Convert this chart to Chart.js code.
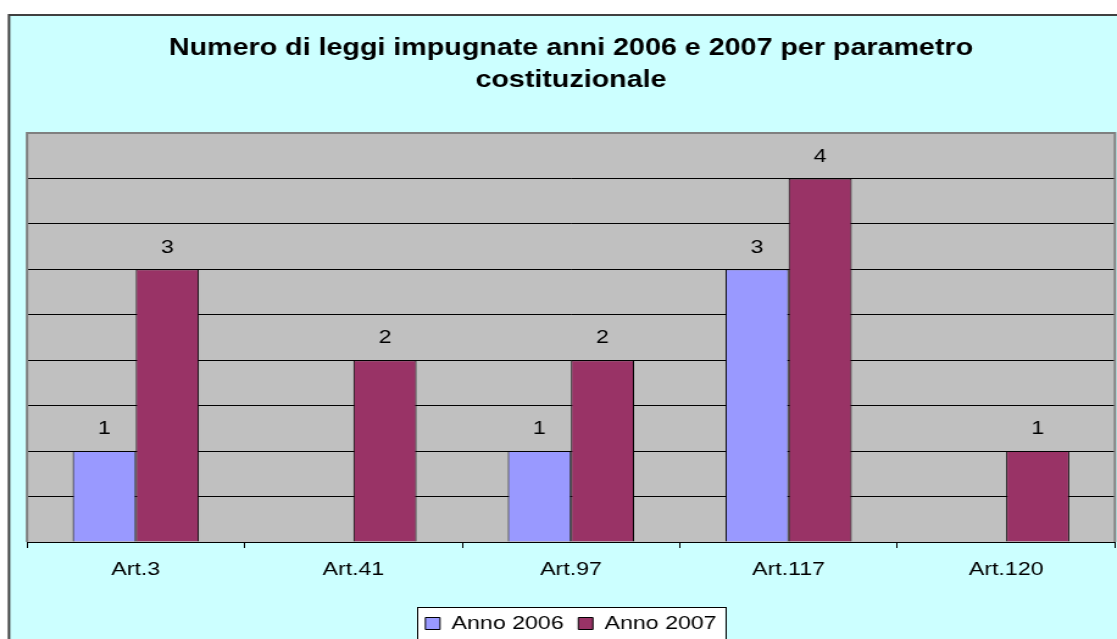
<!DOCTYPE html>
<html><head><meta charset="utf-8">
<script src="https://cdn.jsdelivr.net/npm/chart.js@4"></script>
<style>
html,body{margin:0;padding:0;background:#fff;overflow:hidden;width:1117px;height:639px;}
#wrap{position:absolute;left:0;top:0;width:916px;height:643px;transform:scaleX(1.2194);transform-origin:0 0;}
</style></head><body>
<div id="wrap"><canvas id="c" width="916" height="643"></canvas></div>
<script>
const titleLines = ['Numero di leggi impugnate anni 2006 e 2007 per parametro', 'costituzionale'];
const categories = ['Art.3', 'Art.41', 'Art.97', 'Art.117', 'Art.120'];
const seriesNames = ['Anno 2006', 'Anno 2007'];
const values2006 = [1, null, 1, 3, null];
const values2007 = [3, 2, 2, 4, 1];
const yMin = 0, yMax = 4.5, yStep = 0.5;

const S = 1117 / 916;
const FONT = "'Liberation Sans', Arial, sans-serif";
Chart.defaults.font.family = FONT;
Chart.defaults.color = '#000';

const bgPlugin = {
  id: 'bg',
  beforeDraw(chart) {
    const {ctx, width, height, chartArea: a} = chart;
    ctx.save();
    ctx.fillStyle = '#fff';
    ctx.fillRect(0, 0, width, height);
    const bx = 9 / S;
    ctx.fillStyle = '#CCFFFF';
    ctx.fillRect(bx, 15, width - bx, height - 15);
    ctx.strokeStyle = '#404040';
    ctx.lineWidth = 2;
    ctx.beginPath();
    ctx.moveTo(bx, height + 5); ctx.lineTo(bx, 15); ctx.lineTo(width + 5, 15);
    ctx.stroke();
    ctx.fillStyle = '#C0C0C0';
    ctx.fillRect(a.left, a.top, a.right - a.left, a.bottom - a.top);
    const lg = chart.legend;
    if (lg && lg.legendHitBoxes && lg.legendHitBoxes.length) {
      const hb = lg.legendHitBoxes;
      const first = hb[0], last = hb[hb.length - 1];
      const cy = first.top + first.height / 2;
      const l = first.left - 7, r = last.left + last.width + 7;
      const t = cy - 16.5;
      ctx.fillStyle = '#fff';
      ctx.fillRect(l, t, r - l, 40);
      ctx.strokeStyle = '#000';
      ctx.lineWidth = 1;
      ctx.strokeRect(Math.round(l) + 0.5, Math.round(t) + 0.5, Math.round(r - l), 40);
    }
    ctx.restore();
  },
  beforeDatasetsDraw(chart) {
    const {ctx, chartArea: a} = chart;
    ctx.save();
    ctx.strokeStyle = '#808080';
    ctx.lineWidth = 2;
    ctx.beginPath();
    ctx.moveTo(a.left, a.bottom); ctx.lineTo(a.left, a.top); ctx.lineTo(a.right, a.top); ctx.lineTo(a.right, a.bottom);
    ctx.stroke();
    ctx.restore();
  }
};

const labelPlugin = {
  id: 'vlabels',
  afterDatasetsDraw(chart) {
    const {ctx} = chart;
    ctx.save();
    ctx.font = '19px ' + FONT;
    ctx.fillStyle = '#000';
    ctx.textAlign = 'center';
    ctx.textBaseline = 'middle';
    chart.data.datasets.forEach((ds, i) => {
      const meta = chart.getDatasetMeta(i);
      meta.data.forEach((bar, j) => {
        const v = ds.data[j];
        if (v === null || v === undefined) return;
        ctx.fillText(String(v), bar.x, bar.y - 22);
      });
    });
    ctx.restore();
  }
};

new Chart(document.getElementById('c'), {
  type: 'bar',
  data: {
    labels: categories,
    datasets: [
      {label: seriesNames[0], data: values2006, backgroundColor: '#9999FF', borderColor: '#000', borderWidth: 1},
      {label: seriesNames[1], data: values2007, backgroundColor: '#993366', borderColor: '#000', borderWidth: 1}
    ]
  },
  options: {
    responsive: false,
    animation: false,
    layout: {padding: {left: 27 / S, right: 916 - 1115 / S, top: 0, bottom: 0}},
    datasets: {bar: {categoryPercentage: 0.58, barPercentage: 1}},
    plugins: {
      title: {
        display: true,
        text: titleLines,
        color: '#000',
        font: {size: 23.5, weight: 'bold', family: FONT, lineHeight: 32 / 23.5},
        padding: {top: 33, bottom: 36}
      },
      legend: {
        display: true,
        position: 'bottom',
        labels: {
          color: '#000',
          font: {size: 19, family: FONT},
          boxWidth: 12,
          boxHeight: 12,
          padding: 12
        }
      },
      tooltip: {enabled: false}
    },
    scales: {
      x: {
        grid: {display: true, drawOnChartArea: false, drawTicks: true, tickLength: 6, color: '#000', offset: true},
        border: {display: true, color: '#000', width: 1},
        ticks: {font: {size: 19, family: FONT}, color: '#000', padding: 10},
        afterFit(s) {
          const lg = s.chart.legend;
          const lh = lg ? lg.height : 0;
          s.height = s.chart.height - lh - 542;
        }
      },
      y: {
        min: yMin, max: yMax,
        ticks: {display: false, stepSize: yStep},
        grid: {color: (c) => (c.tick && c.tick.value === yMax ? 'rgba(0,0,0,0)' : '#000'), lineWidth: 1, drawTicks: false},
        border: {display: false},
        afterFit(s) { s.width = 0; }
      }
    }
  },
  plugins: [bgPlugin, labelPlugin]
});
</script>
</body></html>
